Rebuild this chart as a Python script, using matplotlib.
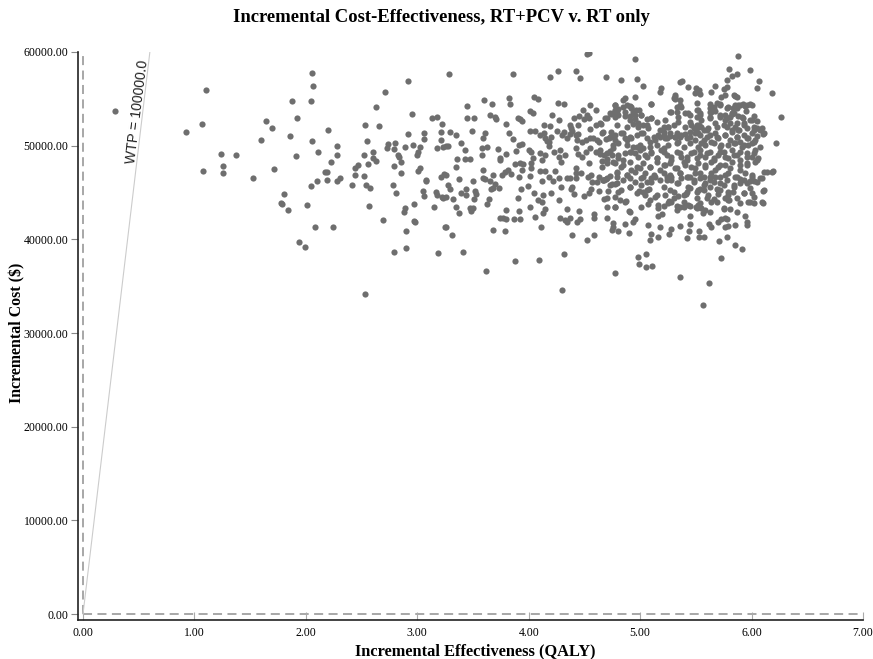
import numpy as np
import matplotlib
matplotlib.use("Agg")
import matplotlib.pyplot as plt

# incremental effectiveness (QALY), incremental cost (thousand $)
# sparse points on the left of the cloud
pts_left = [
    (0.29, 53.7), (1.107, 55.9), (1.065, 52.3), (0.927, 51.5), (1.64, 52.6), (1.70, 51.9),
    (1.60, 50.6), (1.24, 49.1), (1.37, 49.0), (1.26, 47.8), (1.26, 47.1), (1.08, 47.3),
    (1.53, 46.6), (1.71, 47.5),
    (2.056, 57.76), (2.067, 56.4), (1.879, 54.8), (2.044, 54.8), (1.924, 53.0), (1.861, 51.0),
    (2.202, 51.7), (2.053, 50.5), (1.909, 48.9), (2.107, 49.3), (2.277, 50.0), (2.283, 49.0),
    (2.226, 48.3), (2.175, 47.2), (2.19, 47.2), (2.31, 46.6), (2.915, 56.9), (2.714, 55.7),
    (2.63, 54.1), (2.95, 53.4), (3.136, 53.0), (3.175, 53.1), (2.531, 52.2), (2.657, 52.1),
    (3.22, 52.3), (3.217, 51.5), (2.917, 51.2), (3.064, 51.3), (3.061, 50.7), (3.21, 50.6),
    (2.546, 50.5), (2.74, 50.2), (2.80, 50.3), (2.73, 49.7), (2.79, 49.6), (2.89, 49.9),
    (2.96, 50.1), (3.02, 49.9), (3.18, 49.7), (3.23, 49.9), (2.60, 49.3), (2.52, 49.0),
    (2.83, 49.0), (2.84, 48.8), (3.01, 49.3), (3.00, 49.0), (2.60, 48.7), (2.63, 48.4),
    (2.85, 48.3), (2.556, 48.0), (2.47, 47.9), (2.44, 47.6), (2.79, 47.8), (3.02, 47.6),
    (3.01, 47.3), (2.44, 46.9), (2.52, 46.8), (2.85, 47.1), (3.21, 46.7), (3.24, 47.0),
    (3.08, 46.3),
    (1.80, 44.8), (1.78, 43.9), (1.79, 43.8), (1.84, 43.1), (2.01, 43.7), (2.05, 45.7),
    (2.10, 46.2), (2.19, 46.3), (2.28, 46.2), (2.41, 45.8), (2.54, 45.8), (2.58, 45.5),
    (2.57, 43.6), (2.08, 41.3), (2.24, 41.3), (1.94, 39.7), (1.995, 39.2), (2.69, 42.1),
    (2.78, 45.8), (2.81, 44.9), (2.89, 43.3), (2.88, 42.9), (2.97, 43.8), (2.97, 42.0),
    (2.98, 41.8), (2.90, 40.9), (2.90, 39.1), (2.79, 38.7), (2.53, 34.2), (3.08, 46.2),
    (3.05, 45.2), (3.06, 44.6), (3.17, 45.1), (3.18, 44.7), (3.23, 44.4), (3.15, 43.4),
    (3.19, 38.5), (3.25, 41.3),
]

# middle of the cloud (about 3.2 - 4.8 QALY)
pts_mid = [
    (4.52, 59.8), (4.54, 59.9), (3.285, 57.7), (3.86, 57.6), (4.19, 57.3), (4.26, 58.0),
    (4.425, 58.0), (4.46, 57.2), (4.69, 57.3), (3.60, 54.9), (3.67, 54.5), (3.45, 54.2),
    (3.82, 55.1), (3.83, 54.4), (4.05, 55.2), (4.08, 55.0), (4.26, 54.6), (4.32, 54.5),
    (4.55, 54.3), (4.60, 53.8), (4.77, 53.8), (4.01, 53.7), (4.04, 53.5), (4.21, 53.3),
    (3.45, 53.0), (3.51, 53.0), (3.65, 53.3), (3.70, 53.1), (3.71, 52.9), (3.90, 53.0),
    (3.92, 52.8), (3.94, 52.6), (3.80, 52.3), (4.14, 52.2), (4.19, 52.1), (4.27, 52.7),
    (4.41, 53.0), (4.45, 53.2), (4.49, 53.8), (4.52, 53.3), (4.50, 52.8), (4.54, 53.0),
    (4.70, 53.0), (4.74, 53.4), (4.77, 53.1), (4.60, 52.2), (4.65, 52.3), (4.55, 51.8),
    (4.37, 52.2), (4.38, 51.9), (4.44, 52.2), (3.61, 51.4), (3.49, 51.6), (3.29, 51.5),
    (3.35, 51.1), (3.59, 50.8), (3.82, 51.3), (3.86, 50.7), (4.01, 51.6), (4.06, 51.6),
    (4.10, 51.1), (4.14, 51.3), (4.15, 50.8), (4.16, 50.5), (4.18, 50.4), (4.20, 50.9),
    (4.18, 50.0), (4.25, 51.6), (4.32, 51.5), (4.30, 51.1), (4.34, 50.8), (4.37, 51.2),
    (4.39, 51.6), (4.42, 51.1), (4.44, 51.2), (4.43, 50.6), (4.48, 50.4), (4.51, 50.6),
    (4.55, 50.8), (4.58, 50.8), (4.61, 50.6), (4.63, 50.4), (4.66, 51.3), (4.69, 50.7),
    (4.72, 50.8), (4.76, 50.9), (3.255, 50.0), (3.28, 50.0), (3.39, 50.3), (3.43, 49.5),
    (3.58, 49.8), (3.63, 49.9), (3.72, 49.6), (3.58, 49.0), (3.36, 48.6), (3.43, 48.6),
    (3.47, 48.6), (3.74, 48.7), (3.74, 48.5), (3.80, 49.1), (3.89, 49.4), (3.91, 50.1),
    (3.94, 50.2), (4.00, 49.5), (4.02, 49.3), (4.04, 48.7), (4.12, 48.5), (4.10, 49.2),
    (4.15, 49.0), (4.23, 49.3), (4.28, 49.5), (4.27, 48.8), (4.33, 49.0), (4.29, 48.3),
    (4.42, 49.8), (4.44, 49.1), (4.48, 48.8), (4.51, 49.3), (4.55, 49.7), (4.60, 49.3),
    (4.64, 49.1), (4.68, 49.0), (4.70, 48.6), (4.73, 49.4), (4.75, 49.0), (4.76, 48.3),
    (4.54, 48.1), (4.66, 48.4), (3.35, 47.7), (3.59, 47.4), (3.68, 46.9), (3.79, 47.2),
    (3.81, 47.4), (3.76, 46.9), (3.84, 47.0), (3.88, 48.0), (3.92, 48.2), (3.94, 47.4),
    (3.95, 48.0), (4.02, 48.1), (4.02, 47.6), (4.10, 47.3), (4.15, 47.3), (4.24, 47.3),
    (4.42, 47.6), (4.42, 47.1), (4.47, 47.1), (4.53, 46.7), (4.56, 46.9), (4.63, 46.7),
    (4.67, 46.3), (4.70, 46.5), (4.73, 46.8), (3.255, 46.9), (3.59, 46.5), (4.01, 46.8),
    (3.91, 46.7), (4.18, 46.7), (4.27, 46.5), (4.34, 46.6),
    (3.37, 46.4), (3.28, 45.8), (3.29, 45.4), (3.22, 44.5), (3.26, 44.5), (3.32, 44.3),
    (3.39, 44.9), (3.44, 44.7), (3.44, 45.4), (3.50, 46.2), (3.52, 45.2), (3.53, 44.8),
    (3.51, 44.3), (3.61, 46.4), (3.65, 46.2), (3.70, 45.9), (3.66, 45.4), (3.68, 45.5),
    (3.73, 45.5), (3.64, 44.3), (3.63, 43.8), (3.35, 43.4), (3.37, 42.8), (3.47, 43.3),
    (3.48, 43.0), (3.50, 43.3), (3.26, 41.3), (3.31, 40.5), (3.41, 38.7), (3.62, 36.6),
    (3.68, 41.0), (3.74, 42.3), (3.77, 42.3), (3.80, 42.2), (3.79, 40.9), (3.80, 43.1),
    (3.87, 42.2), (3.92, 42.2), (3.91, 43.0), (3.90, 44.4), (3.93, 45.4), (3.99, 45.7),
    (4.05, 45.0), (4.01, 43.5), (4.08, 44.2), (4.12, 44.0), (4.13, 44.7), (4.12, 46.2),
    (4.22, 46.2), (4.06, 42.4), (4.11, 41.3), (4.15, 43.2), (4.13, 42.8), (4.20, 45.0),
    (4.27, 44.2), (4.29, 45.6), (4.37, 46.5), (4.42, 46.6), (4.38, 45.4), (4.39, 45.6),
    (4.41, 44.8), (4.34, 43.2), (4.28, 42.3), (4.33, 42.1), (4.34, 41.8), (4.37, 42.3),
    (4.45, 43.0), (4.46, 42.2), (4.43, 41.8), (4.32, 38.4), (4.39, 40.5), (4.30, 34.6),
    (4.09, 37.8), (3.88, 37.7), (4.50, 44.6), (4.54, 45.0), (4.56, 45.4), (4.57, 46.1),
    (4.61, 46.1), (4.68, 46.3), (4.69, 46.4), (4.63, 45.2), (4.68, 44.3), (4.71, 45.2),
    (4.75, 45.9), (4.59, 42.7), (4.59, 42.3), (4.70, 43.4), (4.70, 42.3), (4.76, 41.7),
    (4.76, 41.3), (4.75, 41.0), (4.59, 40.5), (4.52, 39.9), (4.77, 36.4),
]

# lower right part of the cloud
pts_low = [
    (5.36, 36.0), (5.62, 35.3), (5.56, 33.0), (4.98, 38.1), (5.05, 38.4), (4.99, 37.4),
    (5.05, 37.0), (5.11, 37.2), (5.73, 38.0), (5.85, 39.4), (5.91, 39.0), (5.71, 39.8),
    (5.78, 40.2), (5.53, 40.3), (5.57, 40.2), (5.42, 40.1), (5.44, 40.9), (5.53, 40.9),
    (5.26, 40.6), (5.16, 40.3), (5.09, 39.9), (5.10, 40.6), (5.07, 41.5), (5.18, 41.3),
    (5.28, 41.1), (5.36, 41.4), (5.45, 41.6), (5.16, 42.5), (5.20, 42.7), (5.45, 42.5),
    (5.62, 41.6), (5.64, 41.3), (5.70, 41.9), (5.73, 42.2), (5.76, 42.3), (5.78, 42.2),
    (5.76, 41.3), (5.79, 41.4), (5.85, 41.5), (5.94, 42.5), (5.96, 41.9), (5.96, 41.5),
    (5.75, 43.2), (5.81, 43.2), (4.80, 40.9), (4.86, 41.6), (4.90, 40.7), (4.94, 41.9),
    (4.95, 42.2), (4.77, 43.4), (4.90, 43.0), (4.82, 44.2), (4.87, 44.1), (4.77, 44.5),
    (4.80, 45.1), (4.77, 45.9),
    (4.99, 45.2), (5.03, 45.1), (5.04, 44.7), (5.07, 43.8), (5.08, 45.4), (5.13, 44.5),
    (5.16, 43.7), (5.21, 43.6), (5.22, 44.7), (5.26, 44.1), (5.28, 44.0), (5.30, 44.4),
    (5.33, 43.6), (5.34, 44.6), (5.36, 43.4), (5.39, 43.5), (5.41, 44.8), (5.42, 45.1),
    (5.45, 43.6), (5.50, 43.5), (5.52, 43.7), (5.55, 43.3), (5.56, 42.8), (5.58, 43.1),
    (5.51, 44.4), (5.51, 45.1), (5.54, 45.4), (5.60, 44.4), (5.64, 44.0), (5.66, 44.3),
    (5.69, 45.4), (5.70, 44.8), (5.76, 44.4), (5.79, 45.1), (5.80, 44.2), (5.83, 45.1),
    (5.87, 44.4), (5.93, 44.9), (5.97, 44.0), (6.00, 45.0), (6.02, 43.9), (6.10, 45.2),
    (6.10, 43.9), (6.05, 46.1), (6.09, 46.5), (5.99, 46.2), (5.93, 46.3),
    (4.79, 46.69), (4.85, 46.34), (4.91, 46.51), (4.95, 46.16), (5.01, 46.59), (5.06, 46.16),
    (5.10, 46.51), (5.18, 46.34), (5.24, 46.69), (5.28, 46.34), (5.33, 45.98), (5.37, 46.51),
    (5.43, 46.69), (5.48, 46.16), (5.54, 46.51), (5.58, 45.98), (5.63, 46.34), (5.67, 46.69),
    (5.72, 45.98), (5.78, 46.34), (5.84, 45.80), (5.90, 46.44), (5.96, 45.98), (6.02, 46.23),
    (5.63, 45.62), (5.57, 45.27), (5.45, 45.45), (5.27, 45.27), (4.91, 45.62), (5.72, 45.27),
]

# upper right part of the cloud
pts_high = [
    (4.95, 59.25), (5.875, 59.58), (5.80, 58.15), (5.99, 58.12), (5.87, 57.65), (5.82, 57.44),
    (4.83, 56.98), (4.97, 57.12), (5.36, 56.83), (5.38, 56.94), (5.78, 57.05), (6.07, 56.90),
    (5.03, 56.34), (5.19, 56.19), (5.43, 56.23), (5.50, 56.19), (5.67, 56.41), (6.05, 56.12),
    (5.18, 55.73), (5.53, 55.91), (5.64, 55.77), (5.75, 56.09), (6.18, 55.66), (5.49, 55.59),
    (5.54, 55.48), (5.31, 55.41), (5.76, 55.41), (5.85, 55.30), (4.86, 55.05), (4.95, 55.23),
    (5.30, 55.05), (5.31, 54.95), (5.10, 54.45), (5.36, 54.34), (5.63, 54.41), (5.72, 54.41),
    (5.88, 54.34), (5.92, 54.41), (5.99, 54.41), (4.77, 54.34), (4.85, 54.16), (4.91, 54.27),
    (4.92, 54.06), (4.80, 53.88), (4.96, 53.81), (4.99, 53.81), (5.33, 54.16), (5.28, 53.63),
    (5.40, 53.45), (5.45, 53.27), (5.51, 53.81), (5.63, 53.99), (5.64, 53.56), (5.67, 53.70),
    (5.78, 53.99), (5.83, 53.99), (5.87, 53.99), (5.94, 54.24), (5.95, 53.70), (6.02, 53.20),
    (6.26, 53.02), (4.76, 53.45), (4.80, 53.27), (4.86, 53.20), (4.91, 53.17), (4.95, 52.85),
    (5.01, 53.27), (5.06, 52.85), (5.10, 52.92), (5.15, 52.56), (5.22, 52.74), (5.34, 53.10),
    (5.51, 53.10), (5.54, 53.27), (5.55, 52.74), (5.63, 53.10), (5.72, 53.10), (5.76, 53.27),
    (5.78, 52.92), (5.82, 53.35), (5.88, 53.20), (5.92, 52.92), (6.00, 52.74), (6.05, 52.63),
    (4.79, 52.21), (4.88, 52.03), (4.94, 52.28), (4.98, 52.03), (5.03, 52.21), (5.07, 51.85),
    (5.18, 51.67), (5.21, 51.42), (5.25, 52.03), (5.30, 52.21), (5.33, 51.32), (5.46, 52.21),
    (5.51, 51.85), (5.53, 52.21), (5.57, 51.67), (5.61, 51.92), (5.69, 52.03), (5.75, 52.21),
    (5.81, 52.38), (5.85, 52.03), (5.89, 51.67), (5.93, 52.21), (5.96, 51.85), (6.02, 51.67),
    (6.09, 51.85), (6.10, 51.21), (4.74, 51.49), (4.77, 51.14), (4.83, 51.32), (4.86, 50.78),
    (4.91, 50.96), (4.97, 51.14), (5.01, 51.32), (5.06, 50.78), (5.12, 50.96), (5.16, 51.14),
    (5.22, 50.78), (5.27, 51.07), (5.31, 50.96), (5.36, 50.96), (5.40, 51.21), (5.45, 50.96),
    (5.49, 51.32), (5.54, 51.14), (5.57, 50.60), (5.63, 51.14), (5.69, 50.96), (5.76, 51.14),
    (5.82, 51.49), (5.87, 50.96), (5.93, 51.14), (5.97, 50.78), (6.00, 51.32), (6.05, 51.07),
    (6.22, 50.25), (4.76, 50.07), (4.80, 50.25), (4.88, 50.07), (4.94, 49.89), (5.00, 50.07),
    (5.03, 49.71), (5.09, 49.89), (5.15, 50.07), (5.21, 49.71), (5.25, 50.07), (5.33, 50.25),
    (5.39, 49.89), (5.45, 50.25), (5.52, 49.89), (5.58, 50.07), (5.66, 50.25), (5.72, 49.89),
    (5.79, 50.07), (5.85, 50.25), (5.91, 49.89), (5.97, 50.07), (6.02, 50.43), (4.80, 49.00),
    (4.86, 49.18), (4.92, 49.36), (4.98, 48.82), (5.04, 49.00), (5.10, 49.18), (5.15, 48.65),
    (5.21, 49.36), (5.28, 48.82), (5.36, 49.18), (5.42, 48.82), (5.48, 49.36), (5.54, 49.00),
    (5.60, 49.18), (5.66, 48.65), (5.72, 49.36), (5.76, 48.82), (5.84, 49.00), (5.90, 49.36),
    (5.96, 48.82), (6.02, 49.18), (6.06, 48.65), (4.77, 48.11), (4.85, 47.93), (4.91, 48.29),
    (4.97, 47.76), (5.03, 48.11), (5.09, 47.76), (5.15, 48.29), (5.21, 47.93), (5.27, 48.11),
    (5.33, 47.58), (5.39, 48.29), (5.46, 47.76), (5.52, 48.11), (5.58, 47.93), (5.64, 48.29),
    (5.70, 47.76), (5.76, 47.93), (5.82, 48.29), (5.90, 47.93), (5.96, 48.11), (6.03, 48.29),
    (6.11, 47.22), (6.18, 47.22), (4.79, 47.04), (4.88, 46.87), (4.95, 47.22), (5.03, 46.69),
    (5.12, 46.87), (5.21, 47.04), (5.28, 46.69), (5.36, 47.04), (5.42, 46.69), (5.49, 47.04),
    (5.57, 46.69), (5.64, 47.04), (5.72, 46.69), (5.79, 47.04), (5.87, 46.69), (5.94, 47.04),
    (6.00, 46.69),
]

# dense core of the cloud (about 4.6 - 6.2 QALY)
pts_core = [
    (5.78, 56.30), (5.31, 55.23),
    (4.775, 54.34), (4.85, 54.87), (4.88, 54.34), (4.92, 54.16), (4.94, 53.63), (5.10, 54.45),
    (5.27, 53.63), (5.33, 53.63), (5.36, 54.87), (5.37, 54.16), (5.43, 53.45), (5.51, 54.52),
    (5.52, 53.81), (5.54, 53.45), (5.63, 53.63), (5.66, 54.16), (5.69, 54.52), (5.72, 54.34),
    (5.79, 54.16), (5.82, 53.45), (5.85, 54.34), (5.90, 54.34), (5.96, 54.34), (6.00, 54.34),
    (5.87, 55.23), (5.84, 55.41), (5.73, 55.23),
    (4.64, 52.38), (4.685, 52.92), (4.73, 53.45), (4.79, 53.45), (4.86, 53.63), (4.91, 52.74),
    (4.95, 53.27), (4.98, 52.38), (5.01, 53.27), (5.06, 52.20), (5.10, 52.92), (5.21, 52.03),
    (5.25, 52.03), (5.34, 52.56), (5.40, 52.03), (5.45, 52.56), (5.48, 51.85), (5.51, 52.20),
    (5.55, 52.03), (5.60, 51.67), (5.63, 52.92), (5.67, 52.38), (5.72, 53.27), (5.76, 52.74),
    (5.81, 53.09), (5.84, 53.45), (5.87, 52.38), (5.91, 53.09), (5.93, 52.38), (5.99, 52.74),
    (6.02, 52.03), (6.05, 51.85), (6.08, 51.67), (6.11, 51.31), (5.78, 52.03), (5.82, 51.67),
    (5.88, 51.67),
    (4.67, 51.49), (4.73, 50.96), (4.775, 50.60), (4.85, 51.31), (4.88, 50.60), (4.92, 50.78),
    (4.97, 49.89), (5.03, 51.31), (5.09, 50.42), (5.13, 50.60), (5.18, 50.96), (5.21, 51.14),
    (5.24, 50.78), (5.27, 51.31), (5.31, 50.96), (5.34, 50.42), (5.37, 51.14), (5.42, 50.78),
    (5.45, 51.49), (5.49, 50.60), (5.52, 51.31), (5.55, 50.25), (5.60, 50.96), (5.64, 50.42),
    (5.67, 51.31), (5.70, 50.78), (5.73, 50.07), (5.76, 51.14), (5.81, 50.60), (5.84, 50.25),
    (5.87, 50.96), (5.90, 50.42), (5.93, 50.07), (5.96, 50.78), (6.00, 50.25), (6.03, 50.60),
    (6.08, 49.89),
    (4.64, 49.53), (4.70, 49.18), (4.76, 49.71), (4.80, 48.64), (4.85, 48.47), (4.91, 49.35),
    (4.95, 49.18), (5.00, 49.53), (5.06, 48.82), (5.10, 49.35), (5.15, 48.64), (5.19, 49.53),
    (5.24, 49.00), (5.28, 48.47), (5.33, 49.35), (5.37, 48.82), (5.42, 48.47), (5.46, 49.18),
    (5.51, 48.64), (5.54, 49.53), (5.58, 48.82), (5.63, 49.35), (5.66, 48.47), (5.70, 49.00),
    (5.75, 49.35), (5.79, 48.64), (5.82, 49.53), (5.87, 49.00), (5.90, 48.47), (5.96, 49.18),
    (6.00, 48.82), (6.03, 49.53), (6.05, 48.47),
    (4.655, 47.75), (4.70, 48.11), (4.79, 47.22), (4.83, 47.75), (4.88, 46.86), (4.92, 47.40),
    (5.00, 47.58), (5.04, 47.04), (5.09, 47.75), (5.13, 46.69), (5.18, 47.40), (5.22, 47.93),
    (5.27, 46.86), (5.31, 47.58), (5.36, 47.04), (5.40, 47.93), (5.45, 46.69), (5.49, 47.58),
    (5.54, 47.04), (5.58, 47.75), (5.63, 46.69), (5.67, 47.40), (5.72, 47.93), (5.76, 46.86),
    (5.81, 47.58), (5.85, 46.69), (5.90, 47.40), (5.96, 47.93), (6.00, 46.86), (6.08, 46.51),
    (6.14, 47.22), (6.19, 47.33),
    (4.67, 46.33), (4.73, 45.80), (4.79, 45.97), (4.83, 45.26), (4.91, 45.62), (4.97, 44.91),
    (5.01, 45.80), (5.06, 45.26), (5.10, 46.15), (5.15, 44.73), (5.21, 45.62), (5.24, 46.33),
    (5.30, 45.08), (5.34, 45.97), (5.39, 44.73), (5.43, 45.62), (5.48, 46.33), (5.52, 45.26),
    (5.57, 45.80), (5.61, 44.73), (5.66, 46.15), (5.70, 45.26), (5.75, 45.80), (5.79, 44.73),
    (5.84, 45.62), (5.90, 45.97), (5.93, 44.91), (5.99, 45.44), (6.02, 44.55), (6.11, 45.26),
    (4.70, 44.37), (4.775, 43.48), (4.86, 44.02), (4.91, 42.95), (5.01, 43.48), (5.09, 44.19),
    (5.16, 43.30), (5.25, 43.84), (5.33, 43.13), (5.39, 44.02), (5.43, 43.66), (5.51, 43.30),
    (5.54, 43.84), (5.63, 42.95), (5.69, 44.02), (5.75, 43.30), (5.79, 44.19), (5.87, 42.95),
    (5.90, 43.84), (5.99, 44.02), (6.09, 44.02),
]

x_ticks = [0, 1, 2, 3, 4, 5, 6, 7]
y_ticks = [0, 10000, 20000, 30000, 40000, 50000, 60000]
wtp = 100000.0

pts = np.array(pts_left + pts_mid + pts_low + pts_high + pts_core)
qaly = pts[:, 0]
cost = pts[:, 1] * 1000

plt.rcParams['font.family'] = ['Liberation Serif', 'DejaVu Serif']

fig = plt.figure(figsize=(8.73, 6.59), dpi=100)
ax = fig.add_axes([78 / 873, 39 / 659, 785 / 873, 568 / 659])

ax.scatter(qaly, cost, s=20, color='#6e6e6e', linewidths=0, zorder=3)

# willingness-to-pay line
wx = np.array([0, 60000 / wtp])
ax.plot(wx, wx * wtp, color='#cccccc', lw=0.8, zorder=2)
ax.text(0.485, 53600, 'WTP = %.1f' % wtp, rotation=83, ha='center', va='center',
        family=['Liberation Sans'], fontsize=10, color='#222222')

# dashed zero lines
ax.plot([0, 7], [0, 0], color='#a0a0a0', lw=1.3, ls=(0, (5, 3)), clip_on=False, zorder=1)
ax.plot([0, 0], [0, 60000], color='#a0a0a0', lw=1.3, ls=(0, (5, 3)), clip_on=False, zorder=1)

ax.set_xlim(-0.045, 7.0)
ax.set_ylim(-640, 60000)
ax.set_xticks(x_ticks)
ax.set_yticks(y_ticks)
ax.set_xticklabels(['%.2f' % v for v in x_ticks])
ax.set_yticklabels(['%.2f' % v for v in y_ticks])
ax.tick_params(axis='x', direction='in', length=6, color='#aaaaaa', labelsize=8.5, pad=5)
ax.tick_params(axis='y', direction='out', length=5, color='#888888', labelsize=8.5, pad=2)

for s in ['top', 'right']:
    ax.spines[s].set_visible(False)
for s in ['left', 'bottom']:
    ax.spines[s].set_linewidth(1.2)
    ax.spines[s].set_color('#222222')

fig.text(441 / 873, 1 - 18 / 659, 'Incremental Cost-Effectiveness, RT+PCV v. RT only',
         ha='center', va='center', fontsize=13.4, fontweight='bold')
fig.text(475 / 873, 1 - 651 / 659, 'Incremental Effectiveness (QALY)',
         ha='center', va='center', fontsize=11.8, fontweight='bold')
fig.text(17 / 873, 1 - 333 / 659, 'Incremental Cost ($)', rotation=90,
         ha='center', va='center', fontsize=11.4, fontweight='bold')

fig.savefig('out.png', dpi=100)
